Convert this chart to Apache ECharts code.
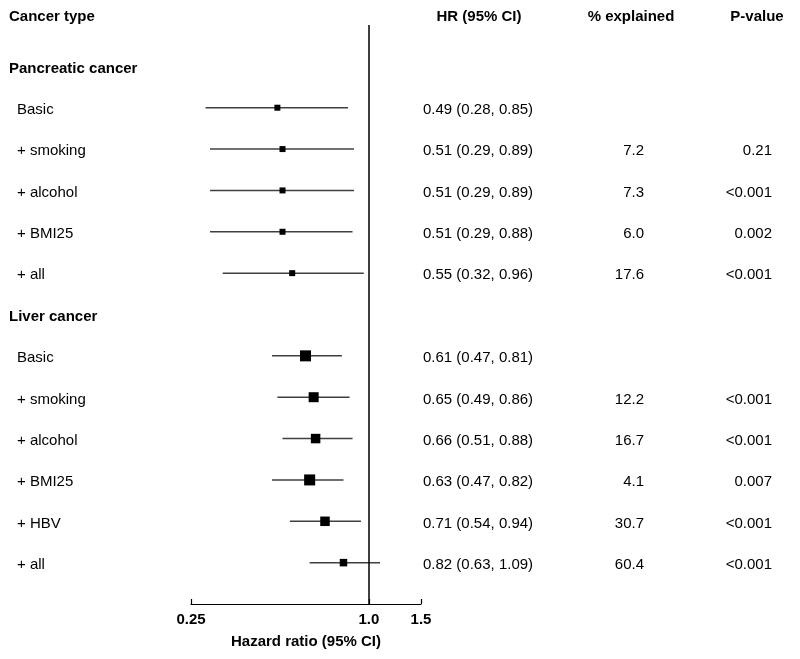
<!DOCTYPE html>
<html>
<head>
<meta charset="utf-8">
<script src="https://cdn.jsdelivr.net/npm/echarts@6/dist/echarts.min.js"></script>
<style>
html,body{margin:0;padding:0;background:#fff;}
#chart{width:800px;height:659px;}
</style>
</head>
<body>
<div id="chart"></div>
<script>
// ---- data ----
var rowLabels = ['Pancreatic cancer','Basic','+ smoking','+ alcohol','+ BMI25','+ all',
                 'Liver cancer','Basic','+ smoking','+ alcohol','+ BMI25','+ HBV','+ all'];
var isGroup   = [true,false,false,false,false,false,true,false,false,false,false,false,false];
var hr        = [null,0.49,0.51,0.51,0.51,0.55,null,0.61,0.65,0.66,0.63,0.71,0.82];
var ciLow     = [null,0.28,0.29,0.29,0.29,0.32,null,0.47,0.49,0.51,0.47,0.54,0.63];
var ciHigh    = [null,0.85,0.89,0.89,0.88,0.96,null,0.81,0.86,0.88,0.82,0.94,1.09];
var pctExpl   = [null,null,'7.2','7.3','6.0','17.6',null,null,'12.2','16.7','4.1','30.7','60.4'];
var pValue    = [null,null,'0.21','<0.001','0.002','<0.001',null,null,'<0.001','<0.001','0.007','<0.001','<0.001'];
var xTicks    = [0.25, 1.0, 1.5];
var xTickLabels = ['0.25','1.0','1.5'];
var headers   = ['Cancer type','HR (95% CI)','% explained','P-value'];
var xAxisTitle = 'Hazard ratio (95% CI)';

// ---- styles (box sizes reflect weights shown in the figure) ----
var boxSize = [0,6,6,6,6,6,0,11,10,9.5,11,9.5,7.5];
var FONT = 'Liberation Sans, Arial, sans-serif';

var seriesData = [];
for (var i = 0; i < rowLabels.length; i++) {
  if (hr[i] != null) seriesData.push([hr[i], ciLow[i], ciHigh[i], i]);
}

var chart = echarts.init(document.getElementById('chart'), null, {renderer:'canvas'});
chart.setOption({
  animation:false,
  backgroundColor:'#fff',
  grid:{left:191, right:379, top:25, bottom:55},
  xAxis:{
    type:'log', logBase:10, min:0.25, max:1.5, position:'bottom',
    axisLine:{show:true, onZero:false, lineStyle:{color:'#000', width:1.2}},
    axisTick:{show:true, inside:true, length:5, lineStyle:{color:'#000', width:1.2}, customValues:xTicks},
    axisLabel:{show:true, customValues:xTicks, color:'#000', fontFamily:FONT, fontSize:15, fontWeight:'bold', margin:8,
      formatter:function(v){ for(var k=0;k<xTicks.length;k++){ if(Math.abs(xTicks[k]-v)<1e-6) return xTickLabels[k]; } return ''; }},
    splitLine:{show:false},
    name:xAxisTitle, nameLocation:'middle', nameGap:30, nameMoveOverlap:false,
    nameTextStyle:{color:'#000', fontFamily:FONT, fontSize:15, fontWeight:'bold'}
  },
  yAxis:{type:'value', inverse:true, min:-1, max:13, show:false},
  series:[{
    type:'custom',
    data:seriesData,
    encode:{x:[0,1,2], y:3},
    renderItem:function(params, api){
      var row = api.value(3);
      var pLo = api.coord([api.value(1), row]);
      var pHi = api.coord([api.value(2), row]);
      var pM  = api.coord([api.value(0), row]);
      var s = boxSize[row];
      return {type:'group', children:[
        {type:'line', shape:{x1:pLo[0], y1:pLo[1], x2:pHi[0], y2:pHi[1]}, style:{stroke:'#404040', lineWidth:1.5}},
        {type:'rect', shape:{x:pM[0]-s/2, y:pM[1]-s/2, width:s, height:s}, style:{fill:'#000'}}
      ]};
    },
    markLine:{
      silent:true, symbol:'none', label:{show:false},
      lineStyle:{color:'#000', width:1.5, type:'solid'},
      data:[{xAxis:1}]
    }
  }]
});

// ---- text table, rows positioned through the y axis ----
var g = [];
function txt(x, y, text, align, bold){
  g.push({type:'text', x:x, y:y, silent:true,
    style:{text:text, fill:'#000', font:(bold?'bold ':'')+'15px '+FONT, textAlign:align, textVerticalAlign:'middle'}});
}
var headY = 17;
txt(9, headY, headers[0], 'left', true);
txt(479, headY, headers[1], 'center', true);
txt(631, headY, headers[2], 'center', true);
txt(757, headY, headers[3], 'center', true);
for (var r = 0; r < rowLabels.length; r++) {
  var y = chart.convertToPixel({yAxisIndex:0}, r) + 2.2;
  if (isGroup[r]) { txt(9, y, rowLabels[r], 'left', true); continue; }
  txt(17, y, rowLabels[r], 'left', false);
  txt(423, y, hr[r].toFixed(2)+' ('+ciLow[r].toFixed(2)+', '+ciHigh[r].toFixed(2)+')', 'left', false);
  if (pctExpl[r] != null) txt(644, y, pctExpl[r], 'right', false);
  if (pValue[r] != null) txt(772, y, pValue[r], 'right', false);
}
chart.setOption({graphic:g});
</script>
</body>
</html>
